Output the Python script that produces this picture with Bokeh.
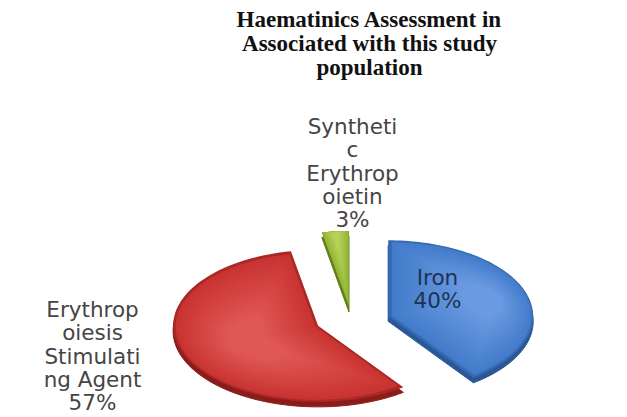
import numpy as np
from bokeh.plotting import figure
from bokeh.models import Range1d
from bokeh.core.properties import value
from bokeh.embed import file_html
from bokeh.resources import INLINE

# ---- data ----
categories = ["Iron", "Erythropoiesis Stimulating Agent", "Synthetic Erythropoietin"]
shares = [40, 57, 3]
wrapped_names = ["Iron", "Erythrop\noiesis\nStimulati\nng Agent", "Syntheti\nc\nErythrop\noietin"]
title_lines = ["Haematinics Assessment in", "Associated with this study", "population"]

# ---- style ----
face_colors = ["#437ccb", "#c93432", "#94b536"]
side_colors = ["#2a5796", "#8a1c1a", "#5f7d1b"]
light_colors = ["#6a9ae0", "#e05854", "#b4d158"]
label_colors = ["#1e3354", "#454545", "#454545"]

W, H = 627, 417
p = figure(width=W, height=H, output_backend="svg", toolbar_location=None,
           x_range=Range1d(0, W), y_range=Range1d(H, 0),
           min_border=0, outline_line_color=None, background_fill_color="white")
p.axis.visible = False
p.grid.visible = False

cx, cy = 352, 320
rx, ry = 145, 76
ex, ey = 37.5, 13.5
depth = 5

def mix(c1, c2, f):
    a = [int(c1[i:i + 2], 16) for i in (1, 3, 5)]
    b = [int(c2[i:i + 2], 16) for i in (1, 3, 5)]
    return "#%02x%02x%02x" % tuple(int(round(a[k] + (b[k] - a[k]) * f)) for k in range(3))

total = float(sum(shares))
start = 90.0
slices = []
for i, v in enumerate(shares):
    sweep = 360.0 * v / total
    end = start - sweep
    mid = np.radians((start + end) / 2)
    ox = cx + ex * np.cos(mid)
    oy = cy - ey * np.sin(mid)
    t = np.radians(np.linspace(start, end, 90))
    xs = np.concatenate([[ox], ox + rx * np.cos(t)])
    ys = np.concatenate([[oy], oy - ry * np.sin(t)])
    slices.append((xs, ys))
    start = end

# depth (side) first
for i, (xs, ys) in enumerate(slices):
    p.patch(xs, ys + depth, fill_color=side_colors[i], line_color=side_colors[i], line_width=1)

# top faces with soft gradient toward the centroid
steps = 18
for i, (xs, ys) in enumerate(slices):
    gx, gy = xs.mean(), ys.mean()
    p.patch(xs, ys, fill_color=mix(side_colors[i], face_colors[i], 0.5), line_color=None)
    for s in range(steps):
        f = s / (steps - 1)
        k = 0.965 - 0.7 * f
        col = mix(face_colors[i], light_colors[i], f)
        p.patch(gx + (xs - gx) * k, gy + (ys - gy) * k, fill_color=col, line_color=None)

# ---- labels ----
label_pos = [(437, 277), (92, 309), (352, 126)]
for i, name in enumerate(wrapped_names):
    lines = name.split("\n") + ["%d%%" % shares[i]]
    lx, ly = label_pos[i]
    p.text(x=[lx] * len(lines), y=[ly + 23.3 * j for j in range(len(lines))], text=lines,
           text_font=value("DejaVu Sans"), text_font_size="21.5px",
           text_color=label_colors[i], text_align="center", text_baseline="middle")

# ---- title ----
p.text(x=[369] * 3, y=[19, 43, 67], text=title_lines,
       text_font=value("Liberation Serif"), text_font_size="23px", text_font_style="bold",
       text_color="#111111", text_align="center", text_baseline="middle")

open("out.html", "w").write(file_html(p, INLINE))
